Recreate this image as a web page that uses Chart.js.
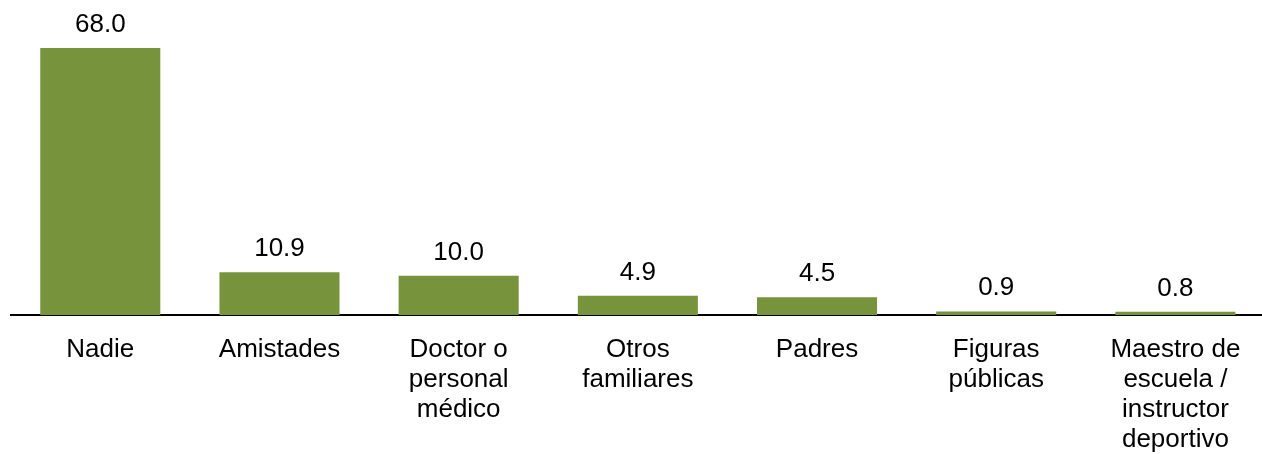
<!DOCTYPE html>
<html>
<head>
<meta charset="utf-8">
<script src="https://cdn.jsdelivr.net/npm/chart.js@4/dist/chart.umd.min.js"></script>
<style>
html,body{margin:0;padding:0;background:#fff;overflow:hidden;}
#wrap{width:1265px;height:454px;position:relative;}
</style>
</head>
<body>
<div id="wrap"><canvas id="c"></canvas></div>
<script>
const categories = [
  'Nadie',
  'Amistades',
  ['Doctor o', 'personal', 'médico'],
  ['Otros', 'familiares'],
  'Padres',
  ['Figuras', 'públicas'],
  ['Maestro de', 'escuela /', 'instructor', 'deportivo']
];
const values = [68.0, 10.9, 10.0, 4.9, 4.5, 0.9, 0.8];
const barColor = '#77933C';
const FONT = '"Liberation Sans", Arial, sans-serif';

const valueLabels = {
  id: 'valueLabels',
  afterDatasetsDraw(chart) {
    const ctx = chart.ctx;
    const meta = chart.getDatasetMeta(0);
    ctx.save();
    ctx.font = '26px ' + FONT;
    ctx.fillStyle = '#000';
    ctx.textAlign = 'center';
    ctx.textBaseline = 'alphabetic';
    meta.data.forEach((bar, i) => {
      ctx.fillText(values[i].toFixed(1), bar.x, bar.y - 16);
    });
    ctx.restore();
  }
};

new Chart(document.getElementById('c'), {
  type: 'bar',
  data: {
    labels: categories,
    datasets: [{
      data: values,
      backgroundColor: barColor,
      borderWidth: 0,
      barPercentage: 0.67,
      categoryPercentage: 1.0
    }]
  },
  options: {
    responsive: true,
    maintainAspectRatio: false,
    animation: false,
    layout: { padding: { top: 48, left: 10.7, right: 0, bottom: 0 } },
    plugins: { legend: { display: false }, tooltip: { enabled: false } },
    scales: {
      x: {
        grid: { display: false, drawTicks: false },
        border: { display: true, color: '#000', width: 2 },
        ticks: {
          color: '#000',
          font: { family: FONT, size: 26, lineHeight: 1.15 },
          padding: 20,
          maxRotation: 0,
          autoSkip: false
        },
        afterFit(scale) { scale.height = 139; }
      },
      y: {
        display: false,
        min: 0,
        max: 68
      }
    }
  },
  plugins: [valueLabels]
});
</script>
</body>
</html>
